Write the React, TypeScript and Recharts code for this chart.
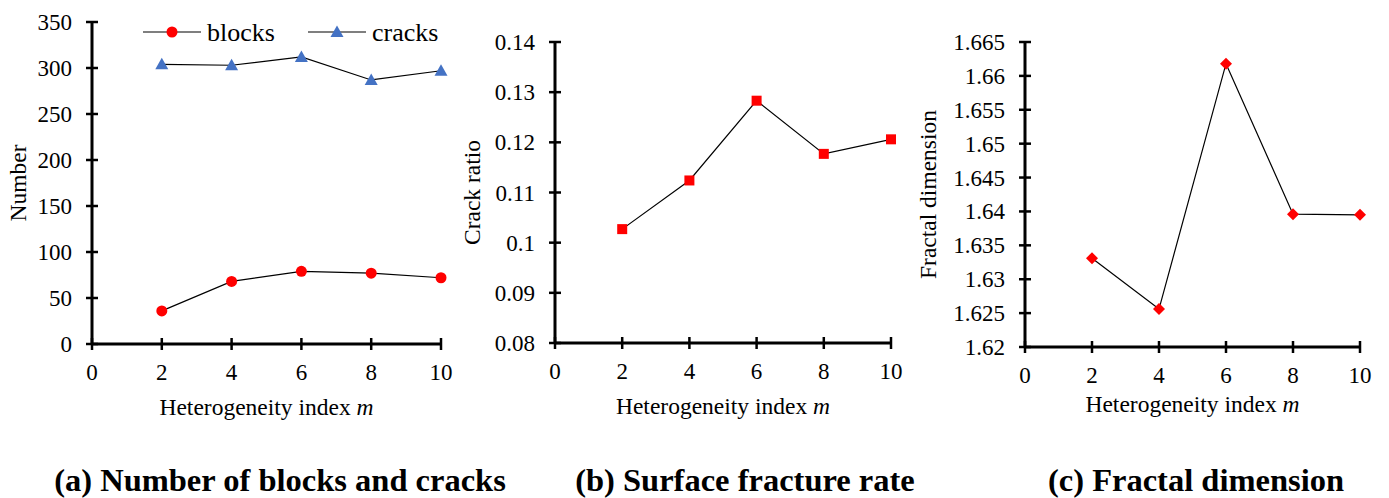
import React from 'react';
import { LineChart, Line, XAxis, YAxis, Legend } from 'recharts';

// values
const mValues = [2, 4, 6, 8, 10];
const blocks = [36, 68, 79, 77, 72];
const cracks = [304, 303, 312, 287, 297];
const crackRatio = [0.1027, 0.1124, 0.1283, 0.1177, 0.1206];
const fractalDim = [1.6331, 1.6256, 1.6618, 1.6396, 1.6395];

const xTicks = [0, 2, 4, 6, 8, 10];
const yTicksA = [0, 50, 100, 150, 200, 250, 300, 350];
const yTicksB = [0.08, 0.09, 0.1, 0.11, 0.12, 0.13, 0.14];
const yTicksC = [1.62, 1.625, 1.63, 1.635, 1.64, 1.645, 1.65, 1.655, 1.66, 1.665];

const titles = [
  '(a) Number of blocks and cracks',
  '(b) Surface fracture rate',
  '(c) Fractal dimension'
];
const titleX = [280, 745, 1196];

const dataA = mValues.map((m, i) => ({ m, blocks: blocks[i], cracks: cracks[i] }));
const dataB = mValues.map((m, i) => ({ m, ratio: crackRatio[i] }));
const dataC = mValues.map((m, i) => ({ m, fd: fractalDim[i] }));

const FONT = "'Liberation Serif', 'Times New Roman', serif";
const RED = '#FF0000';
const BLUE = '#4472C4';

const fmt = (v: number) => String(Number(v.toFixed(4)));

const XTick = (props: any) => {
  const { x, y, payload } = props;
  return (
    <g>
      <line x1={x} x2={x} y1={y - 6} y2={y + 6} stroke="#000" strokeWidth={2.5} />
      <text x={x} y={y + 35.5} textAnchor="middle" fontSize={23} fontFamily={FONT} fill="#000">
        {payload.value}
      </text>
    </g>
  );
};

const YTick = (props: any) => {
  const { x, y, payload } = props;
  return (
    <g>
      <line x1={x - 6} x2={x + 6} y1={y} y2={y} stroke="#000" strokeWidth={2.5} />
      <text x={x - 20} y={y + 8} textAnchor="end" fontSize={23} fontFamily={FONT} fill="#000">
        {fmt(payload.value)}
      </text>
    </g>
  );
};

const circleDot = (p: any) => (
  <circle key={`c-${p.index}`} cx={p.cx} cy={p.cy} r={5.5} fill={RED} stroke="none" />
);
const triangleDot = (p: any) => (
  <polygon
    key={`t-${p.index}`}
    points={`${p.cx},${p.cy - 6.5} ${p.cx - 6.5},${p.cy + 5} ${p.cx + 6.5},${p.cy + 5}`}
    fill={BLUE}
  />
);
const squareDot = (p: any) => (
  <rect key={`s-${p.index}`} x={p.cx - 5} y={p.cy - 5} width={10} height={10} fill={RED} />
);
const diamondDot = (p: any) => (
  <polygon
    key={`d-${p.index}`}
    points={`${p.cx},${p.cy - 6} ${p.cx + 6},${p.cy} ${p.cx},${p.cy + 6} ${p.cx - 6},${p.cy}`}
    fill={RED}
  />
);

const xLabel = (dy: number) => (props: any) => {
  const vb = props.viewBox;
  return (
    <text x={vb.x + vb.width / 2} y={vb.y + dy} textAnchor="middle" fontSize={23.5} fontFamily={FONT} fill="#000">
      Heterogeneity index <tspan fontStyle="italic">m</tspan>
    </text>
  );
};

const yLabel = (text: string, dx: number) => (props: any) => {
  const vb = props.viewBox;
  const cx = vb.x + vb.width + dx;
  const cy = vb.y + vb.height / 2;
  return (
    <text
      x={cx}
      y={cy}
      transform={`rotate(-90 ${cx} ${cy})`}
      textAnchor="middle"
      dominantBaseline="central"
      fontSize={23.5}
      fontFamily={FONT}
      fill="#000"
    >
      {text}
    </text>
  );
};

const legendContent = (props: any) => {
  const items = props.payload || [];
  const starts = [143, 308];
  return (
    <svg width={460} height={50}>
      {items.map((it: any, i: number) => {
        const x0 = starts[i];
        const mx = x0 + 29;
        return (
          <g key={it.value}>
            <line x1={x0} x2={x0 + 58} y1={32} y2={32} stroke="#000" strokeWidth={1.2} />
            {i === 0 ? circleDot({ cx: mx, cy: 32, index: 'l' }) : triangleDot({ cx: mx, cy: 32, index: 'l' })}
            <text x={x0 + 64} y={41} fontSize={26} fontFamily={FONT} fill="#000">
              {it.value}
            </text>
          </g>
        );
      })}
    </svg>
  );
};

const axisLine = { stroke: '#000', strokeWidth: 3 };

export default function App() {
  return (
    <div style={{ position: 'absolute', left: 0, top: 0, width: 1389, height: 498, background: '#fff' }}>
      <div style={{ position: 'absolute', left: 0, top: 0 }}>
        <LineChart width={460} height={420} data={dataA} margin={{ top: 22, right: 19, left: 0, bottom: 0 }}>
          <XAxis
            dataKey="m"
            type="number"
            domain={[0, 10]}
            ticks={xTicks}
            tickSize={0}
            tickMargin={0}
            tickLine={false}
            tick={XTick}
            axisLine={axisLine}
            height={76}
            label={{ content: xLabel(71) }}
          />
          <YAxis
            type="number"
            domain={[0, 350]}
            ticks={yTicksA}
            tickSize={0}
            tickMargin={0}
            tickLine={false}
            tick={YTick}
            axisLine={axisLine}
            width={92}
            label={{ content: yLabel('Number', -74) }}
          />
          <Legend
            layout="horizontal"
            verticalAlign="middle"
            align="center"
            content={legendContent}
            wrapperStyle={{ position: 'absolute', left: 0, top: 0, width: 460, height: 50 }}
          />
          <Line dataKey="blocks" name="blocks" stroke="#000" strokeWidth={1.2} dot={circleDot} isAnimationActive={false} />
          <Line dataKey="cracks" name="cracks" stroke="#000" strokeWidth={1.2} dot={triangleDot} isAnimationActive={false} />
        </LineChart>
      </div>

      <div style={{ position: 'absolute', left: 450, top: 0 }}>
        <LineChart width={470} height={420} data={dataB} margin={{ top: 42, right: 29, left: 0, bottom: 0 }}>
          <XAxis
            dataKey="m"
            type="number"
            domain={[0, 10]}
            ticks={xTicks}
            tickSize={0}
            tickMargin={0}
            tickLine={false}
            tick={XTick}
            axisLine={axisLine}
            height={77}
            label={{ content: xLabel(71) }}
          />
          <YAxis
            type="number"
            domain={[0.08, 0.14]}
            ticks={yTicksB}
            tickSize={0}
            tickMargin={0}
            tickLine={false}
            tick={YTick}
            axisLine={axisLine}
            width={105}
            label={{ content: yLabel('Crack ratio', -83) }}
          />
          <Line dataKey="ratio" name="Crack ratio" stroke="#000" strokeWidth={1.2} dot={squareDot} isAnimationActive={false} />
        </LineChart>
      </div>

      <div style={{ position: 'absolute', left: 905, top: 0 }}>
        <LineChart width={484} height={420} data={dataC} margin={{ top: 42, right: 29, left: 0, bottom: 0 }}>
          <XAxis
            dataKey="m"
            type="number"
            domain={[0, 10]}
            ticks={xTicks}
            tickSize={0}
            tickMargin={0}
            tickLine={false}
            tick={XTick}
            axisLine={axisLine}
            height={73}
            label={{ content: xLabel(65) }}
          />
          <YAxis
            type="number"
            domain={[1.62, 1.665]}
            ticks={yTicksC}
            tickSize={0}
            tickMargin={0}
            tickLine={false}
            tick={YTick}
            axisLine={axisLine}
            width={120}
            label={{ content: yLabel('Fractal dimension', -97) }}
          />
          <Line dataKey="fd" name="Fractal dimension" stroke="#000" strokeWidth={1.2} dot={diamondDot} isAnimationActive={false} />
        </LineChart>
      </div>

      <svg width={1389} height={498} style={{ position: 'absolute', left: 0, top: 0, pointerEvents: 'none' }}>
        {titles.map((t, i) => (
          <text
            key={t}
            x={titleX[i]}
            y={491}
            textAnchor="middle"
            fontSize={32.5}
            fontWeight="bold"
            fontFamily={FONT}
            fill="#000"
          >
            {t}
          </text>
        ))}
      </svg>
    </div>
  );
}
